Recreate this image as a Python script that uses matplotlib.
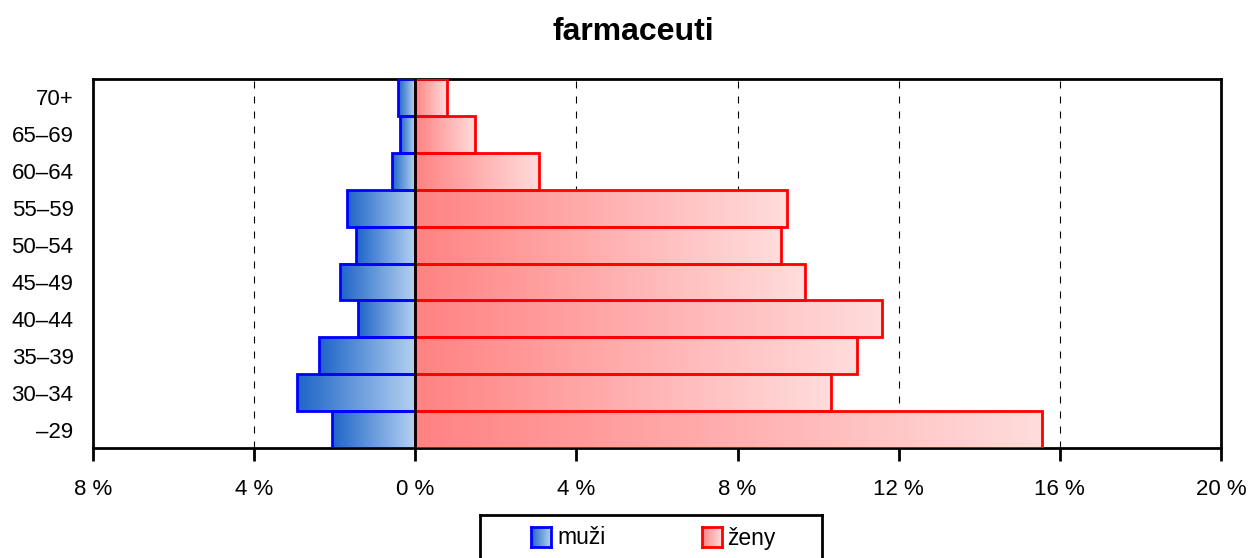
import numpy as np
import matplotlib
matplotlib.use("Agg")
import matplotlib.pyplot as plt
from matplotlib.colors import LinearSegmentedColormap
from matplotlib.lines import Line2D

plt.rcParams['font.family'] = ['Liberation Sans', 'DejaVu Sans']

categories = ["–29", "30–34", "35–39", "40–44", "45–49", "50–54", "55–59", "60–64", "65–69", "70+"]
muzi = [2.06, 2.93, 2.38, 1.41, 1.86, 1.46, 1.69, 0.57, 0.37, 0.42]
zeny = [15.56, 10.32, 10.97, 11.59, 9.68, 9.08, 9.23, 3.08, 1.49, 0.79]
xticks = [-8, -4, 0, 4, 8, 12, 16, 20]
xticklabels = ["8 %", "4 %", "0 %", "4 %", "8 %", "12 %", "16 %", "20 %"]
series_names = ["muži", "ženy"]

blue_dark, blue_light = "#1E64C8", "#B4D2F0"
red_dark, red_light = "#FF8282", "#FFDCDC"
cmap_m = LinearSegmentedColormap.from_list("m", [blue_dark, blue_light])
cmap_z = LinearSegmentedColormap.from_list("z", [red_dark, red_light])
grad = np.linspace(0, 1, 256).reshape(1, -1)

W, H = 1249, 558
fig = plt.figure(figsize=(W/100, H/100), dpi=100)
ax = fig.add_axes([93/W, 1-448/H, (1221-93)/W, (448-79)/H])

for i, (m, z) in enumerate(zip(muzi, zeny)):
    ax.imshow(grad, cmap=cmap_m, extent=(-m, 0, i-0.5, i+0.5), aspect='auto', zorder=2)
    ax.imshow(grad, cmap=cmap_z, extent=(0, z, i-0.5, i+0.5), aspect='auto', zorder=2)

y = np.arange(len(categories))
ax.barh(y, [-v for v in muzi], height=1.0, facecolor='none', edgecolor='#0000FF', linewidth=2, zorder=3)
ax.barh(y, zeny, height=1.0, facecolor='none', edgecolor='#FF0000', linewidth=2, zorder=3)

for t in xticks:
    if t not in (-8, 0, 20):
        ax.axvline(t, color='black', linestyle=(0, (6.3, 7.2)), linewidth=0.8, zorder=1)
ax.axvline(0, color='black', linewidth=2, zorder=4)

ax.set_xlim(-8, 20)
ax.set_ylim(-0.5, len(categories)-0.5)
ax.set_xticks(xticks)
ax.set_xticklabels(xticklabels, fontsize=16)
ax.set_yticks(y)
ax.set_yticklabels(categories, fontsize=16)
ax.tick_params(axis='y', length=0, pad=14)
ax.tick_params(axis='x', length=9, width=2, direction='out', pad=13)
for s in ax.spines.values():
    s.set_linewidth(2)

fig.text(633/W, 1-32/H, "farmaceuti", ha='center', va='center', fontsize=23, fontweight='bold')

# legend (drawn manually, partly cut off at the bottom like the reference)
fx = lambda px: px / W
fy = lambda py: 1 - py / H
for xs, ys in [((480, 822), (515, 515)), ((480, 480), (515, 570)), ((822, 822), (515, 570))]:
    fig.add_artist(Line2D([fx(v) for v in xs], [fy(v) for v in ys], color='black', linewidth=2,
                          transform=fig.transFigure, clip_on=False))

for (hx, tx), cmap, edge, name in [((531, 557), cmap_m, '#0000FF', series_names[0]),
                                    ((702, 727), cmap_z, '#FF0000', series_names[1])]:
    hax = fig.add_axes([fx(hx), fy(547), 20/W, 20/H])
    hax.imshow(grad, cmap=cmap, aspect='auto', extent=(0, 1, 0, 1))
    hax.set_xticks([]); hax.set_yticks([])
    for s in hax.spines.values():
        s.set_color(edge); s.set_linewidth(2)
    fig.text(fx(tx), fy(538), name, ha='left', va='center', fontsize=16.5)

fig.savefig("out.png", dpi=100)
